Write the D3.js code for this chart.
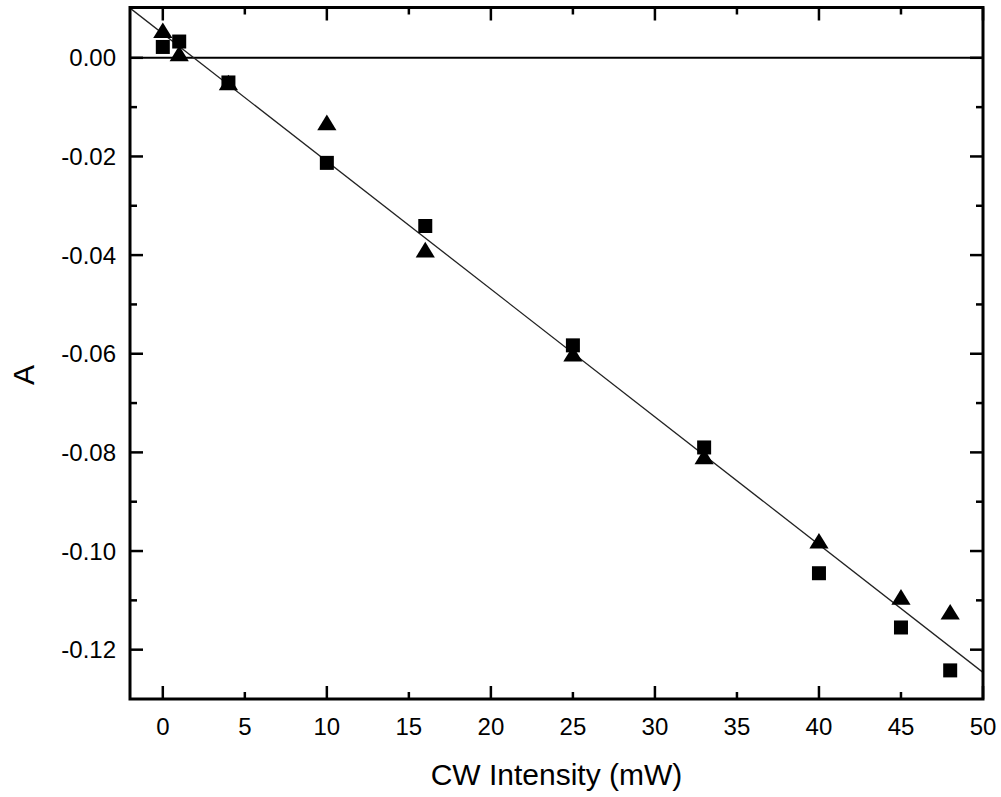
<!DOCTYPE html>
<html>
<head>
<meta charset="utf-8">
<script src="https://cdn.jsdelivr.net/npm/d3@7"></script>
<style>
  body { margin: 0; background: #fff; }
  svg { display: block; font-family: "Liberation Sans", Arial, sans-serif; }
</style>
</head>
<body>
<svg id="chart" width="1001" height="797"></svg>
<script>
// intensities (mW)
const intensity = [0, 1, 4, 10, 16, 25, 33, 40, 45, 48];
// series
const squareA = [0.0022, 0.0033, -0.0050, -0.0213, -0.0341, -0.0583, -0.0790, -0.1045, -0.1155, -0.1242];
const triangleA = [0.0056, 0.0009, -0.0050, -0.0131, -0.0389, -0.0600, -0.0808, -0.0979, -0.1093, -0.1123];
// linear fit
const fitSlope = -0.00259;
const fitIntercept = 0.0049;
const xTicks = [0, 5, 10, 15, 20, 25, 30, 35, 40, 45, 50];
const yTicks = [0, -0.02, -0.04, -0.06, -0.08, -0.10, -0.12];

const svg = d3.select("#chart");
const plotL = 130, plotR = 983, plotT = 7.5, plotB = 699;

const x = d3.scaleLinear().domain([-2, 50]).range([plotL, plotR]);
const y = d3.scaleLinear().domain([-0.13, 0.0102]).range([plotB, plotT]);

svg.append("defs").append("clipPath").attr("id", "plotClip")
  .append("rect").attr("x", plotL).attr("y", plotT).attr("width", plotR - plotL).attr("height", plotB - plotT);

const plot = svg.append("g").attr("clip-path", "url(#plotClip)");

// zero line
plot.append("line")
  .attr("x1", plotL).attr("x2", plotR)
  .attr("y1", y(0)).attr("y2", y(0))
  .attr("stroke", "#000").attr("stroke-width", 2);

// fit line
const fitXs = [-2, 50];
plot.append("path")
  .datum(fitXs)
  .attr("d", d3.line().x((d) => x(d)).y((d) => y(fitIntercept + fitSlope * d)))
  .attr("fill", "none")
  .attr("stroke", "#222")
  .attr("stroke-width", 1.3);

// squares
plot.selectAll("rect.sq")
  .data(intensity.map((d, i) => ({ x: d, v: squareA[i] })))
  .join("rect")
  .attr("class", "sq")
  .attr("x", (d) => x(d.x) - 7)
  .attr("y", (d) => y(d.v) - 7)
  .attr("width", 14)
  .attr("height", 14)
  .attr("fill", "#000");

// triangles
const tri = "M0,-7.8L9.6,7.8L-9.6,7.8Z";
plot.selectAll("path.tri")
  .data(intensity.map((d, i) => ({ x: d, v: triangleA[i] })))
  .join("path")
  .attr("class", "tri")
  .attr("d", tri)
  .attr("transform", (d) => `translate(${x(d.x)},${y(d.v)})`)
  .attr("fill", "#000");

// inward ticks on all four sides, minor ticks between
const xMajor = d3.range(0, 51, 10);
const xMinor = d3.range(5, 51, 10);
const yMinor = [0.01, -0.01, -0.03, -0.05, -0.07, -0.09, -0.11, -0.13];

const ticks = svg.append("g").attr("stroke", "#000").attr("stroke-width", 2.5);
function xTick(v, len) {
  ticks.append("line").attr("x1", x(v)).attr("x2", x(v)).attr("y1", plotB).attr("y2", plotB - len);
  ticks.append("line").attr("x1", x(v)).attr("x2", x(v)).attr("y1", plotT).attr("y2", plotT + len);
}
function yTick(v, len) {
  ticks.append("line").attr("y1", y(v)).attr("y2", y(v)).attr("x1", plotL).attr("x2", plotL + len);
  ticks.append("line").attr("y1", y(v)).attr("y2", y(v)).attr("x1", plotR).attr("x2", plotR - len);
}
xMajor.forEach((v) => xTick(v, 13));
xMinor.forEach((v) => xTick(v, 7));
yTicks.forEach((v) => yTick(v, 13));
yMinor.filter((v) => y(v) > plotT + 2 && y(v) < plotB - 2).forEach((v) => yTick(v, 7));

// frame
svg.append("rect")
  .attr("x", plotL).attr("y", plotT)
  .attr("width", plotR - plotL).attr("height", plotB - plotT)
  .attr("fill", "none").attr("stroke", "#000").attr("stroke-width", 3);

// tick labels
svg.append("g").selectAll("text")
  .data(xTicks)
  .join("text")
  .attr("x", (d) => x(d))
  .attr("y", 735)
  .attr("text-anchor", "middle")
  .attr("font-size", 24)
  .attr("fill", "#000")
  .text((d) => d);

svg.append("g").selectAll("text")
  .data(yTicks)
  .join("text")
  .attr("x", 116)
  .attr("y", (d) => y(d))
  .attr("dy", "0.36em")
  .attr("text-anchor", "end")
  .attr("font-size", 24)
  .attr("fill", "#000")
  .text((d) => d3.format(".2f")(d).replace("−", "-"));

// axis titles
svg.append("text")
  .attr("x", (plotL + plotR) / 2)
  .attr("y", 785)
  .attr("text-anchor", "middle")
  .attr("font-size", 30)
  .attr("fill", "#000")
  .text("CW Intensity (mW)");

svg.append("text")
  .attr("transform", "translate(34,375) rotate(-90)")
  .attr("text-anchor", "middle")
  .attr("font-size", 30)
  .attr("fill", "#000")
  .text("A");
</script>
</body>
</html>
